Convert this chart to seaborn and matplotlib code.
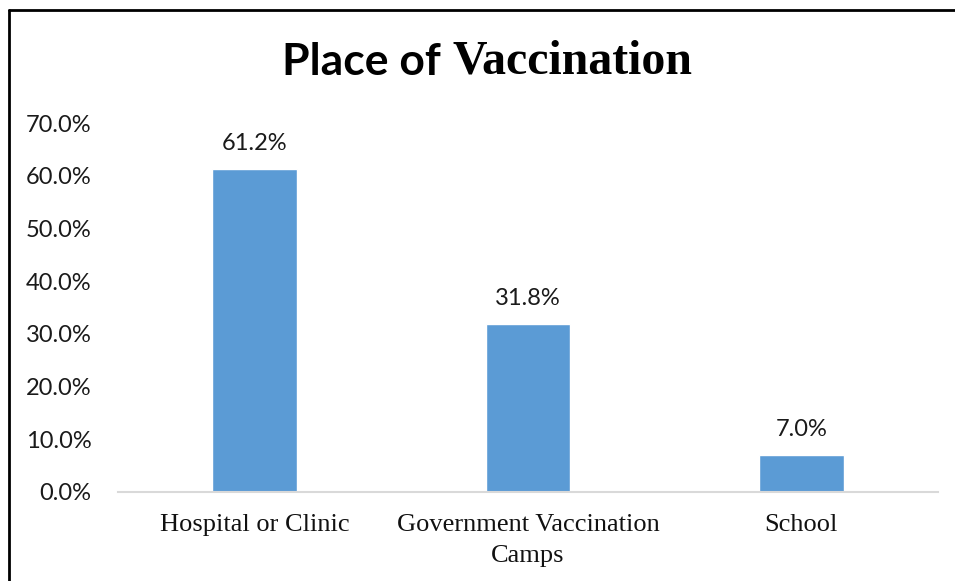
import numpy as np
import seaborn as sns
import matplotlib.pyplot as plt
from matplotlib.lines import Line2D

# dados do grafico
categorias = ['Hospital or Clinic', 'Government Vaccination\nCamps', 'School']
valores = [61.2, 31.8, 7.0]
y_ticks = [0, 10, 20, 30, 40, 50, 60, 70]

sns.set_style('white')
plt.rcParams['font.family'] = ['Lato', 'DejaVu Sans']

W, H = 955, 581
fig = plt.figure(figsize=(W / 100, H / 100), dpi=100)
ax = fig.add_axes([118 / W, 1 - 492 / H, 820 / W, (492 - 123) / H])

sns.barplot(x=categorias, y=valores, color='#5B9BD5', width=0.31, saturation=1, ax=ax)

ax.set_ylim(0, 70)
ax.set_xlim(-0.5, 2.5)
ax.set_yticks(y_ticks)
ax.set_yticklabels([f'{v:.1f}%' for v in y_ticks], fontsize=17, color='#1a1a1a')
ax.set_xticklabels(categorias, fontsize=19, family='Liberation Serif', color='#111111',
                   linespacing=1.5)
ax.tick_params(axis='both', length=0)
ax.tick_params(axis='y', pad=19)
ax.tick_params(axis='x', pad=16)
ax.set_xlabel('')
ax.set_ylabel('')

for s in ['top', 'right', 'left']:
    ax.spines[s].set_visible(False)
ax.spines['bottom'].set_color('#D9D9D9')
ax.spines['bottom'].set_linewidth(1.5)

ax.bar_label(ax.containers[0], labels=[f'{v:.1f}%' for v in valores],
             padding=11, fontsize=17, color='#1a1a1a')

# titulo com duas fontes
fig.text(452 / W, 1 - 62 / H, 'Place of ', ha='right', va='center', color='black',
         fontsize=32, fontweight='bold', family='Lato')
fig.text(452 / W, 1 - 62 / H, 'Vaccination', ha='left', va='center', color='black',
         fontsize=34.5, fontweight='bold', family='Liberation Serif')

# borda
fig.add_artist(Line2D([9 / W, 9 / W], [0, 1 - 10 / H], transform=fig.transFigure,
                      color='black', lw=2))
fig.add_artist(Line2D([9 / W, 1], [1 - 10 / H, 1 - 10 / H], transform=fig.transFigure,
                      color='black', lw=2))

fig.savefig('out.png', dpi=100)
